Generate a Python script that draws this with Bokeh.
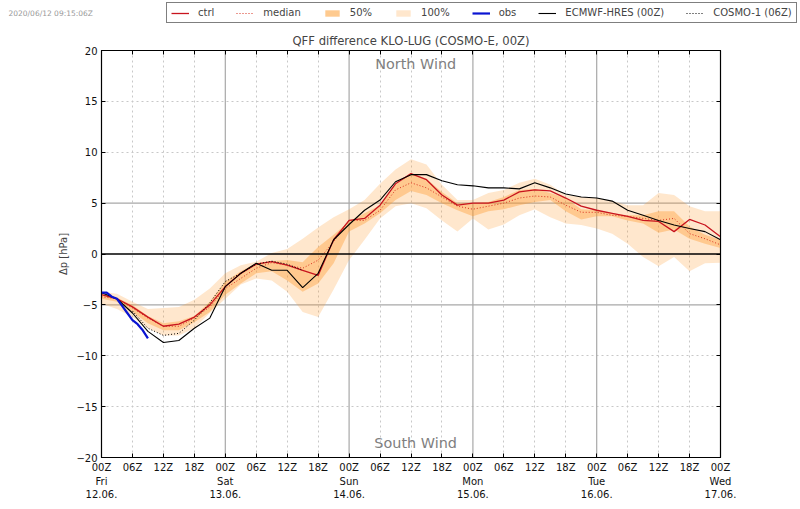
from bokeh.embed import file_html
from bokeh.resources import INLINE
from bokeh.plotting import figure
from bokeh.layouts import column
from bokeh.models import (ColumnDataSource, Label, Legend, LegendItem, LinearAxis, FixedTicker, Span, Range1d)

hours = [0,3,6,9,12,15,18,21,24,27,30,33,36,39,42,45,48,51,54,57,60,63,66,69,72,75,78,81,84,87,90,93,96,99,102,105,108,111,114,117,120]
ctrl = [-4.0,-4.4,-5.2,-6.2,-7.1,-6.9,-6.2,-5.0,-3.2,-1.9,-1.0,-0.75,-1.1,-1.6,-2.1,1.4,3.3,3.5,4.8,6.9,7.9,7.3,5.8,4.8,5.0,5.0,5.3,6.1,6.3,6.2,5.5,4.7,4.3,4.0,3.7,3.3,3.2,2.2,3.4,2.85,1.7]
median = [-4.2,-4.4,-5.3,-6.3,-7.1,-7.1,-6.3,-5.2,-3.4,-2.4,-1.4,-0.85,-1.1,-1.4,-0.6,1.2,3.3,3.3,4.3,6.3,7.0,6.5,5.6,4.7,4.4,4.7,5.0,5.5,5.7,5.6,4.8,4.1,4.1,3.8,3.7,3.5,3.3,3.5,2.0,1.5,0.9]
p25 = [-4.4,-4.7,-5.7,-6.8,-7.5,-7.5,-6.7,-5.7,-4.0,-2.9,-1.9,-1.7,-2.6,-3.7,-2.9,-0.9,2.2,3.0,4.0,5.3,6.2,5.8,5.0,4.3,3.7,4.2,4.4,4.8,5.1,5.3,4.2,3.4,3.7,3.7,3.3,3.0,2.1,2.4,1.5,1.0,0.6]
p75 = [-4.0,-4.3,-5.0,-6.1,-6.8,-6.6,-6.1,-4.7,-2.7,-1.7,-0.9,-0.7,-0.6,-0.8,0.7,1.9,3.2,4.0,4.8,6.8,7.9,7.4,6.1,5.0,5.0,5.1,5.6,6.3,6.4,6.0,5.5,4.4,4.3,4.0,3.8,3.8,4.2,4.2,2.7,1.9,1.4]
pmin = [-4.9,-5.4,-6.2,-7.3,-8.0,-8.0,-7.3,-5.8,-4.4,-3.0,-2.4,-2.6,-3.7,-5.7,-6.2,-3.5,-0.6,1.4,3.5,4.7,5.0,4.5,3.3,2.2,3.5,2.4,2.9,3.8,4.4,3.6,3.0,2.85,2.5,2.0,1.0,-0.3,-1.2,-0.3,-1.7,-0.9,-0.85]
pmax = [-3.7,-3.9,-4.7,-5.4,-5.3,-5.2,-4.5,-3.4,-1.9,-1.1,-0.75,0.1,0.5,1.5,2.6,3.6,4.4,5.3,6.9,8.3,9.3,8.8,6.8,5.3,5.3,6.0,6.3,7.0,7.4,6.8,5.8,5.6,5.5,5.2,4.8,4.8,6.0,5.8,4.7,4.2,4.2]
ecmwf = [-3.8,-4.4,-5.8,-7.6,-8.7,-8.5,-7.3,-6.3,-3.2,-1.9,-0.9,-1.6,-1.6,-3.3,-1.9,1.4,2.9,4.3,5.3,7.1,7.8,7.8,7.2,6.8,6.7,6.5,6.5,6.4,7.0,6.5,5.9,5.6,5.5,5.2,4.3,3.8,3.3,2.85,2.5,2.2,1.4]
cosmo_hours = [6,9,12,15,18,21,24,27,30,33,36,39]
cosmo = [-5.6,-7.3,-8.0,-7.8,-6.5,-4.8,-2.7,-1.9,-1.0,-0.7,-1.0,-1.6]
obs_hours = [0,1,2,3,4,5,6,7,8,9]
obs = [-3.8,-3.8,-4.2,-4.4,-5.1,-5.8,-6.5,-6.9,-7.5,-8.3]

y_ticks = [-20,-15,-10,-5,0,5,10,15,20]
x_ticks = list(range(0,121,6))
x_labels = ["00Z","06Z","12Z","18Z","00Z","06Z","12Z","18Z","00Z","06Z","12Z","18Z","00Z","06Z","12Z","18Z","00Z","06Z","12Z","18Z","00Z"]
day_hours = [0,24,48,72,96,120]
day_names = ["Fri","Sat","Sun","Mon","Tue","Wed"]
day_dates = ["12.06.","13.06.","14.06.","15.06.","16.06.","17.06."]

FONT = "DejaVu Sans"
C_BAND = "#fe9929"; C_MED = "#d7301f"; C_CTRL = "#c8141e"; C_OBS = "#0a14d2"
HEADER = 24

p = figure(width=800, height=505-HEADER, output_backend="svg", toolbar_location=None,
           x_range=Range1d(0,120), y_range=Range1d(-20,20),
           frame_width=619, frame_height=407, min_border_left=101, min_border_top=50-HEADER,
           min_border_right=80, min_border_bottom=48, frame_align=False)
p.background_fill_color = "white"
p.outline_line_color = "black"; p.outline_line_width = 1.2

src = ColumnDataSource(dict(h=hours, ctrl=ctrl, median=median, p25=p25, p75=p75, pmin=pmin, pmax=pmax, ecmwf=ecmwf))
p.varea("h", "pmin", "pmax", source=src, fill_color=C_BAND, fill_alpha=0.23)
p.varea("h", "p25", "p75", source=src, fill_color=C_BAND, fill_alpha=0.38)
p.line("h", "median", source=src, line_color=C_MED, line_width=1, line_dash=[1,2])
p.line("h", "ctrl", source=src, line_color=C_CTRL, line_width=1.3)
p.line("h", "ecmwf", source=src, line_color="black", line_width=1.1)
p.line(cosmo_hours, cosmo, line_color="black", line_width=1, line_dash=[1,2])
p.line(obs_hours, obs, line_color=C_OBS, line_width=2.2)

ax = p.xaxis[0]; ay = p.yaxis[0]
ax.ticker = FixedTicker(ticks=x_ticks)
ax.major_label_overrides = {t:l for t,l in zip(x_ticks,x_labels)}
ay.ticker = FixedTicker(ticks=y_ticks)
ay.axis_label = "Δp [hPa]"
ay.axis_label_text_font_style = "normal"; ay.axis_label_text_font = FONT; ay.axis_label_text_font_size = "10px"
ay.axis_label_standoff = 4
top = LinearAxis(ticker=FixedTicker(ticks=x_ticks), major_label_text_color=None, major_label_text_font_size="1px", major_label_standoff=0)
right = LinearAxis(ticker=FixedTicker(ticks=y_ticks), major_label_text_color=None, major_label_text_font_size="1px", major_label_standoff=0)
p.add_layout(top, "above"); p.add_layout(right, "right")
for a in (ax, ay, top, right):
    a.major_tick_in = 4; a.major_tick_out = 0; a.minor_tick_in = 0; a.minor_tick_out = 0
    a.axis_line_color = "black"
for a in (ax, ay):
    a.major_label_text_font = FONT; a.major_label_text_font_size = "10px"
    a.major_label_standoff = 4; a.major_label_text_color = "#111111"
ay.major_label_overrides = {t:str(t).replace("-","\u2212") for t in y_ticks}

for labels in (day_names, day_dates):
    extra = LinearAxis(ticker=FixedTicker(ticks=day_hours), major_label_overrides=dict(zip(day_hours, labels)),
                       axis_line_color=None, major_tick_line_color=None, minor_tick_line_color=None,
                       major_tick_in=0, major_tick_out=0, minor_tick_in=0, minor_tick_out=0,
                       major_label_standoff=0, major_label_text_font=FONT, major_label_text_font_size="10px", major_label_text_color="#111111")
    p.add_layout(extra, "below")

p.xgrid.ticker = FixedTicker(ticks=[t for t in x_ticks if t%24])
p.xgrid.grid_line_color = "#c8c8c8"; p.xgrid.grid_line_dash = [2,3]; p.xgrid.grid_line_width = 1
p.ygrid.ticker = FixedTicker(ticks=[-15,-10,10,15])
p.ygrid.grid_line_color = "#c8c8c8"; p.ygrid.grid_line_dash = [2,3]; p.ygrid.grid_line_width = 1
for t in x_ticks:
    if t%24 == 0 and 0 < t < 120:
        p.add_layout(Span(location=t, dimension="height", line_color="#a8a8a8", line_width=1.2, level="underlay"))
for v in (-5,5):
    p.add_layout(Span(location=v, dimension="width", line_color="#a8a8a8", line_width=1.2, level="underlay"))
p.add_layout(Span(location=0, dimension="width", line_color="black", line_width=1.4))

p.title.text = "QFF difference KLO-LUG (COSMO-E, 00Z)"
p.title.text_font = FONT; p.title.text_font_size = "11.6px"; p.title.text_font_style = "normal"; p.title.align = "center"
p.title.standoff = 6
p.add_layout(Label(x=60.9, y=18.7, text="North Wind", text_align="center", text_baseline="middle", text_font=FONT, text_font_size="14.4px", text_color="#808080"))
p.add_layout(Label(x=60.9, y=-18.6, text="South Wind", text_align="center", text_baseline="middle", text_font=FONT, text_font_size="14.4px", text_color="#808080"))

# header strip: legend box and time stamp above the plot. Its x range lies below
# every hour, so its series stay off-screen and only feed the legend keys.
h = figure(width=800, height=HEADER, output_backend="svg", toolbar_location=None,
           x_range=Range1d(-2,-1), y_range=Range1d(-20,20), x_axis_type=None, y_axis_type=None,
           min_border=0, outline_line_color=None, frame_align=False)
h.grid.visible = False
k_ctrl = h.line(hours, ctrl, line_color=C_CTRL, line_width=1.3)
k_med = h.line(hours, median, line_color=C_MED, line_width=1, line_dash=[1,2])
k_50 = h.varea(hours, p25, p75, fill_color=C_BAND, fill_alpha=0.52)
k_100 = h.varea(hours, pmin, pmax, fill_color=C_BAND, fill_alpha=0.23)
k_obs = h.line(obs_hours, obs, line_color=C_OBS, line_width=2.2)
k_eu = h.line(hours, ecmwf, line_color="black", line_width=1.1)
k_co = h.line(cosmo_hours, cosmo, line_color="black", line_width=1, line_dash=[1,2])
legend = Legend(items=[LegendItem(label="ctrl",renderers=[k_ctrl]),LegendItem(label="median",renderers=[k_med]),
    LegendItem(label="50%",renderers=[k_50]),LegendItem(label="100%",renderers=[k_100]),LegendItem(label="obs",renderers=[k_obs]),
    LegendItem(label="ECMWF-HRES (00Z)",renderers=[k_eu]),LegendItem(label="COSMO-1 (06Z)",renderers=[k_co])],
    orientation="horizontal", location=(166,1), border_line_color="black", border_line_width=1.2,
    background_fill_alpha=1, label_text_font=FONT, label_text_font_size="10px", glyph_width=18, glyph_height=8,
    spacing=22, padding=4, margin=0, label_standoff=9, label_height=10, label_width=10)
h.add_layout(legend, "center")
h.add_layout(Label(x=8, y=11, x_units="screen", y_units="screen", text="2020/06/12 09:15:06Z", text_font=FONT,
                   text_font_size="7.5px", text_color="#999999", text_baseline="middle"))

open("out.html","w").write(file_html(column(h, p, spacing=0), INLINE))
